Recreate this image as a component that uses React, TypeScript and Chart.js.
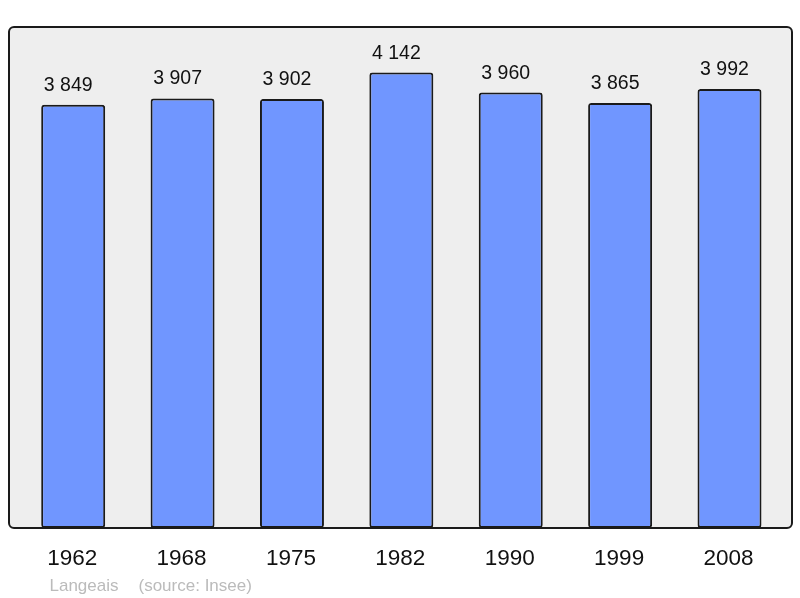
import React, { useEffect, useRef } from "react";
import { Chart, registerables } from "chart.js";

Chart.register(...registerables);

const years = ["1962", "1968", "1975", "1982", "1990", "1999", "2008"];
const population = [3849, 3907, 3902, 4142, 3960, 3865, 3992];
const valueLabels = ["3 849", "3 907", "3 902", "4 142", "3 960", "3 865", "3 992"];
const footerTown = "Langeais";
const footerSource = "(source: Insee)";

const FONT = "'Liberation Sans', Arial, sans-serif";

const framePlugin = {
  id: "framePlugin",
  beforeDraw(chart: any) {
    const ctx = chart.ctx;
    ctx.save();
    ctx.fillStyle = "#ffffff";
    ctx.fillRect(0, 0, chart.width, chart.height);
    ctx.beginPath();
    ctx.roundRect(9, 27, 783, 501, 5);
    ctx.fillStyle = "#eeeeee";
    ctx.fill();
    ctx.restore();
  },
  afterDatasetsDraw(chart: any) {
    const ctx = chart.ctx;
    const x = chart.scales.x;
    const y = chart.scales.y;
    ctx.save();
    ctx.beginPath();
    ctx.roundRect(9, 27, 783, 501, 5);
    ctx.lineWidth = 2;
    ctx.strokeStyle = "#1a1a1a";
    ctx.stroke();

    ctx.fillStyle = "#111111";
    ctx.textAlign = "center";
    ctx.textBaseline = "alphabetic";
    ctx.font = `19.5px ${FONT}`;
    population.forEach((v, i) => {
      const px = x.getPixelForValue(i);
      const py = y.getPixelForValue(v);
      ctx.fillText(valueLabels[i], px - 5, py - 14);
    });

    ctx.font = `22.5px ${FONT}`;
    years.forEach((yr, i) => {
      const px = x.getPixelForValue(i);
      ctx.fillText(yr, px - 1, 564.5);
    });

    ctx.fillStyle = "#bbbbbb";
    ctx.textAlign = "left";
    ctx.font = `17px ${FONT}`;
    ctx.fillText(footerTown, 49.5, 590.5);
    ctx.fillText(footerSource, 138.5, 590.5);
    ctx.restore();
  },
};

export default function App() {
  const ref = useRef<HTMLCanvasElement | null>(null);
  useEffect(() => {
    if (!ref.current) return;
    const maxV = Math.max(...population) * 1.1;
    const chart = new Chart(ref.current, {
      type: "bar",
      data: {
        labels: years,
        datasets: [
          {
            data: population,
            backgroundColor: "#7096ff",
            borderColor: "#1a1a1a",
            borderWidth: 2,
            borderRadius: 3,
            borderSkipped: false,
            barPercentage: 0.585,
            categoryPercentage: 1,
          },
        ],
      },
      options: {
        animation: false,
        responsive: false,
        maintainAspectRatio: false,
        devicePixelRatio: 1,
        layout: { padding: { left: 18.5, right: 15.8, top: 27, bottom: 70 } },
        plugins: { legend: { display: false }, tooltip: { enabled: false }, title: { display: false } },
        scales: {
          x: { display: false, offset: true },
          y: { display: false, min: 0, max: maxV },
        },
      },
      plugins: [framePlugin],
    });
    return () => chart.destroy();
  }, []);
  return (
    <div style={{ position: "fixed", left: 0, top: 0, width: 800, height: 598, background: "#fff" }}>
      <canvas ref={ref} width={800} height={598} style={{ width: 800, height: 598, display: "block" }} />
    </div>
  );
}
